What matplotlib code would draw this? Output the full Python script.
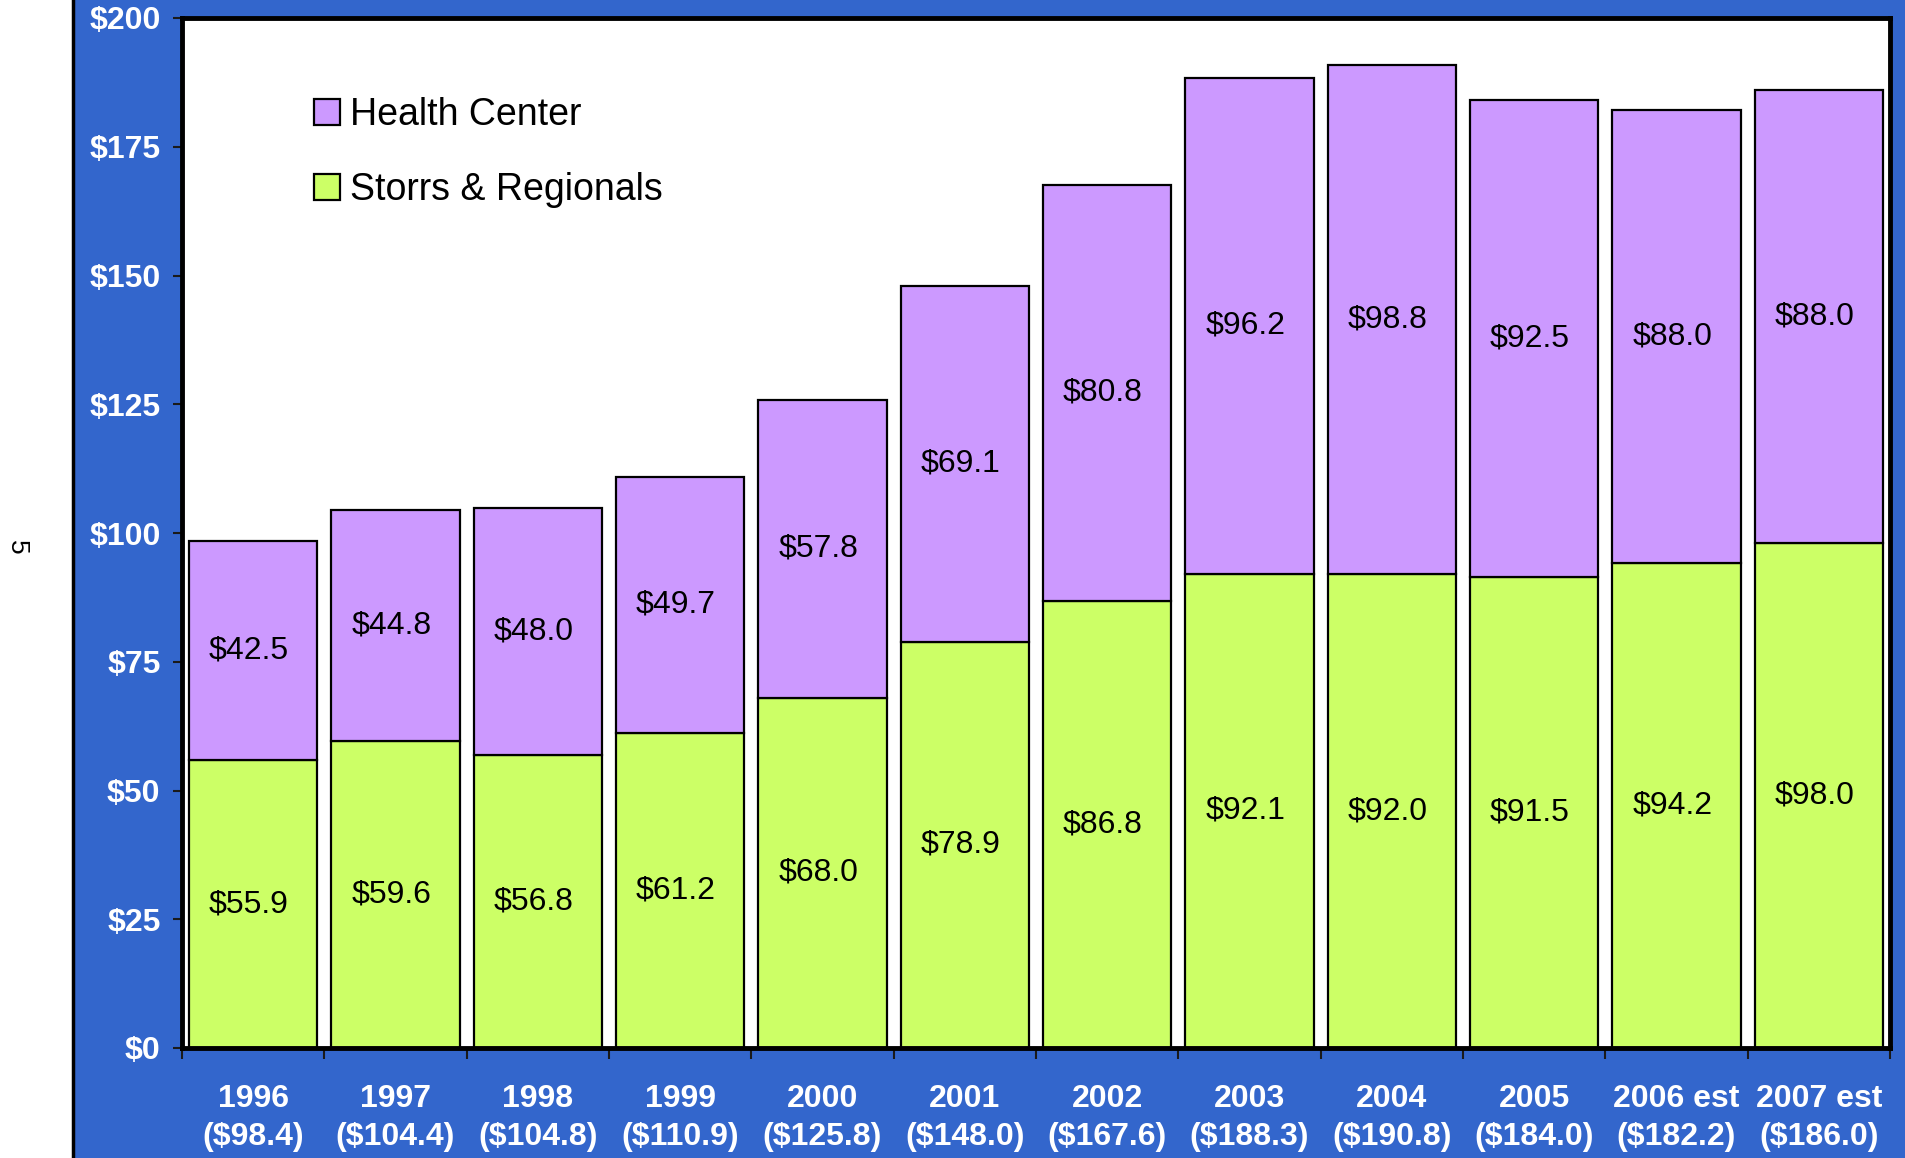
import matplotlib
matplotlib.use("Agg")
import matplotlib.pyplot as plt
from matplotlib.patches import Patch, Rectangle
import numpy as np

years = ["1996", "1997", "1998", "1999", "2000", "2001", "2002", "2003",
         "2004", "2005", "2006 est", "2007 est"]
storrs = [55.9, 59.6, 56.8, 61.2, 68.0, 78.9, 86.8, 92.1, 92.0, 91.5, 94.2, 98.0]
health = [42.5, 44.8, 48.0, 49.7, 57.8, 69.1, 80.8, 96.2, 98.8, 92.5, 88.0, 88.0]
totals = [98.4, 104.4, 104.8, 110.9, 125.8, 148.0, 167.6, 188.3, 190.8, 184.0, 182.2, 186.0]
yticks = [0, 25, 50, 75, 100, 125, 150, 175, 200]

BLUE = "#3366CC"
PURPLE = "#CC99FF"
GREEN = "#CCFF66"

plt.rcParams["font.family"] = ["Liberation Sans", "DejaVu Sans"]

W, H = 1906, 1158
fig = plt.figure(figsize=(W / 100, H / 100), dpi=100, facecolor="white")

# blue panel behind the chart
fig.patches.append(Rectangle((73 / W, -0.01), 1.0, 1.02, transform=fig.transFigure,
                             facecolor=BLUE, edgecolor="black", lw=2.5, zorder=-5))
fig.text(17 / W, 1 - 547 / H, "5", rotation=270, fontsize=19,
         ha="center", va="center", color="black")

ax = fig.add_axes([182 / W, 1 - 1048 / H, (1890 - 182) / W, (1048 - 18) / H])
ax.set_zorder(2)
ax.set_facecolor("white")

x = np.arange(len(years))
ax.bar(x, storrs, width=0.9, color=GREEN, edgecolor="black", lw=1.6, zorder=3)
ax.bar(x, health, width=0.9, bottom=storrs, color=PURPLE, edgecolor="black", lw=1.6, zorder=3)

for i in range(len(years)):
    ax.text(x[i] - 0.03, storrs[i] / 2, f"${storrs[i]:.1f}", ha="center", va="center",
            fontsize=23, color="black", zorder=4)
    ax.text(x[i] - 0.03, storrs[i] + health[i] / 2, f"${health[i]:.1f}", ha="center",
            va="center", fontsize=23, color="black", zorder=4)

ax.set_xlim(-0.5, len(years) - 0.5)
ax.set_ylim(0, 200)
ax.set_yticks(yticks)
ax.set_yticklabels([f"${v}" for v in yticks], color="white", fontweight="bold", fontsize=23)
ax.tick_params(axis="y", length=6.5, width=1.5, color="#1a1a1a", pad=9)

ax.set_xticks(x)
ax.set_xticklabels([f"{y}\n(${t:.1f})" for y, t in zip(years, totals)],
                   color="white", fontweight="bold", fontsize=23, linespacing=1.33)
ax.tick_params(axis="x", which="major", length=0, pad=26)
ax.set_xticks(np.arange(-0.5, len(years)), minor=True)
ax.tick_params(axis="x", which="minor", length=8, width=1.5, color="#1a1a1a")

for s in ax.spines.values():
    s.set_linewidth(3.5)
    s.set_color("black")
    s.set_zorder(5)

handles = [Patch(facecolor=PURPLE, edgecolor="black", lw=1.6, label="Health Center"),
           Patch(facecolor=GREEN, edgecolor="black", lw=1.6, label="Storrs & Regionals")]
ax.legend(handles=handles, loc="upper left", bbox_to_anchor=(299 / W, 1 - 82 / H),
          bbox_transform=fig.transFigure, frameon=False, fontsize=27,
          handlelength=0.7, handleheight=0.7, handletextpad=0.25,
          labelspacing=1.05, borderaxespad=0)

fig.savefig("out.png", dpi=100, facecolor="white")
